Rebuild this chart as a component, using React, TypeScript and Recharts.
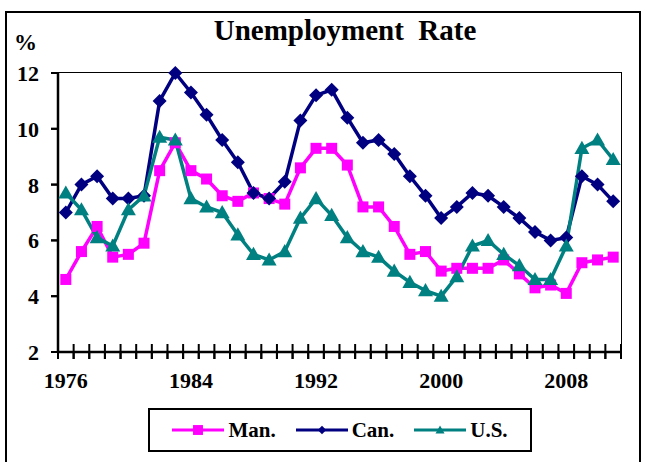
import React from 'react';
import { LineChart, Line, XAxis, YAxis } from 'recharts';

const years = [
  1976, 1977, 1978, 1979, 1980, 1981, 1982, 1983, 1984, 1985, 1986, 1987,
  1988, 1989, 1990, 1991, 1992, 1993, 1994, 1995, 1996, 1997, 1998, 1999,
  2000, 2001, 2002, 2003, 2004, 2005, 2006, 2007, 2008, 2009, 2010, 2011,
];
const manitoba = [
  4.6, 5.6, 6.5, 5.4, 5.5, 5.9, 8.5, 9.5, 8.5, 8.2, 7.6, 7.4,
  7.7, 7.5, 7.3, 8.6, 9.3, 9.3, 8.7, 7.2, 7.2, 6.5, 5.5, 5.6,
  4.9, 5.0, 5.0, 5.0, 5.3, 4.8, 4.3, 4.4, 4.1, 5.2, 5.3, 5.4,
];
const canada = [
  7.0, 8.0, 8.3, 7.5, 7.5, 7.6, 11.0, 12.0, 11.3, 10.5, 9.6, 8.8,
  7.7, 7.5, 8.1, 10.3, 11.2, 11.4, 10.4, 9.5, 9.6, 9.1, 8.3, 7.6,
  6.8, 7.2, 7.7, 7.6, 7.2, 6.8, 6.3, 6.0, 6.1, 8.3, 8.0, 7.4,
];
const usa = [
  7.7, 7.1, 6.1, 5.8, 7.1, 7.6, 9.7, 9.6, 7.5, 7.2, 7.0, 6.2,
  5.5, 5.3, 5.6, 6.8, 7.5, 6.9, 6.1, 5.6, 5.4, 4.9, 4.5, 4.2,
  4.0, 4.7, 5.8, 6.0, 5.5, 5.1, 4.6, 4.6, 5.8, 9.3, 9.6, 8.9,
];
const yearLabels = [1976, 1984, 1992, 2000, 2008];
const yTicks = [2, 4, 6, 8, 10, 12];

const series = [
  { key: 'man', name: 'Man.', color: '#FF00FF', shape: 'square' },
  { key: 'can', name: 'Can.', color: '#000080', shape: 'diamond' },
  { key: 'us', name: 'U.S.', color: '#008080', shape: 'triangle' },
];

const data = years.map((year, i) => ({
  year,
  man: manitoba[i],
  can: canada[i],
  us: usa[i],
}));

// tick marks sit on the category boundaries, like the old Excel chart
const boundaryTicks = [...years.map((y) => y - 0.5), years[years.length - 1] + 0.5];

const FONT = '"Liberation Serif", "DejaVu Serif", serif';
const HALF_CAT = 563 / years.length / 2;

const Marker = ({ cx, cy, shape, color, size = 1 }: any) => {
  if (cx == null || cy == null) return null;
  if (shape === 'square') {
    const s = 5.5 * size;
    return <rect x={cx - s} y={cy - s} width={s * 2} height={s * 2} fill={color} />;
  }
  if (shape === 'diamond') {
    const s = 7 * size;
    return <polygon points={`${cx},${cy - s} ${cx + s},${cy} ${cx},${cy + s} ${cx - s},${cy}`} fill={color} />;
  }
  const s = 7.5 * size;
  return <polygon points={`${cx},${cy - s} ${cx + s},${cy + s * 0.75} ${cx - s},${cy + s * 0.75}`} fill={color} />;
};

const renderXTick = (props: any) => {
  const { x, y, payload, index } = props;
  const labelYear = payload.value + 0.5;
  return (
    <g key={`xt-${index}`}>
      <path d={`M${x},${y - 15}L${x},${y}`} stroke="#000" strokeWidth={2} />
      {yearLabels.includes(labelYear) && (
        <text x={x + HALF_CAT} y={y + 29} textAnchor="middle" fontFamily={FONT} fontWeight="bold" fontSize={22} fill="#000">
          {labelYear}
        </text>
      )}
    </g>
  );
};

const renderYTick = (props: any) => (
  <g key={`yt-${props.index}`}>
    <path d={`M${props.x},${props.y}L${props.x + 7},${props.y}`} stroke="#000" strokeWidth={2} />
    <text x={props.x - 12} y={props.y + 8} textAnchor="end" fontFamily={FONT} fontWeight="bold" fontSize={22} fill="#000">
      {props.payload.value}
    </text>
  </g>
);

export default function App() {
  return (
    <div style={{ position: 'absolute', left: 0, top: 0, width: 647, height: 462, overflow: 'hidden', background: '#fff' }}>
      <div style={{ position: 'absolute', left: 5, top: 11, width: 632, height: 480, border: '2px solid #000' }} />
      {/* plot frame (top and right edges) */}
      <div style={{ position: 'absolute', left: 57, top: 72, width: 563, height: 279, border: '1.5px solid #000' }} />
      <div style={{ position: 'absolute', left: 0, top: 14, width: 690, textAlign: 'center', fontFamily: FONT, fontWeight: 'bold', fontSize: 29 }}>
        Unemployment&nbsp; Rate
      </div>
      <div style={{ position: 'absolute', left: 14, top: 30, fontFamily: FONT, fontWeight: 'bold', fontSize: 23 }}>%</div>
      <div style={{ position: 'absolute', left: 0, top: 0 }}>
        <LineChart width={647} height={462} data={data} margin={{ top: 73, right: 26, bottom: 80, left: 18 }}>
          <XAxis
            dataKey="year"
            type="number"
            domain={[1975.5, 2011.5]}
            ticks={boundaryTicks}
            interval={0}
            height={30}
            tickSize={7}
            tickMargin={0}
            tickLine={{ stroke: '#000', strokeWidth: 2 }}
            axisLine={{ stroke: '#000', strokeWidth: 2.5 }}
            tick={renderXTick}
          />
          <YAxis
            type="number"
            domain={[2, 12]}
            ticks={yTicks}
            interval={0}
            width={40}
            tickSize={7}
            tickMargin={0}
            tickLine={{ stroke: '#000', strokeWidth: 2 }}
            axisLine={{ stroke: '#000', strokeWidth: 2.5 }}
            tick={renderYTick}
          />
          {series.map((s) => (
            <Line
              key={s.key}
              dataKey={s.key}
              name={s.name}
              stroke={s.color}
              strokeWidth={3.5}
              isAnimationActive={false}
              dot={(p: any) => <Marker key={`${s.key}-${p.index}`} cx={p.cx} cy={p.cy} shape={s.shape} color={s.color} />}
              activeDot={false}
            />
          ))}
        </LineChart>
      </div>
      <div
        style={{
          position: 'absolute', left: 148, top: 408, width: 380, height: 40, border: '2px solid #000',
          display: 'flex', alignItems: 'center', justifyContent: 'center', gap: 20,
          fontFamily: FONT, fontWeight: 'bold', fontSize: 21,
        }}
      >
        {series.map((s) => (
          <div key={s.key} style={{ display: 'flex', alignItems: 'center', gap: 4 }}>
            <svg width={52} height={20}>
              <line x1={0} x2={52} y1={10} y2={10} stroke={s.color} strokeWidth={3} />
              <Marker cx={26} cy={10} shape={s.shape} color={s.color} size={s.shape === 'square' ? 0.9 : 0.6} />
            </svg>
            <span>{s.name}</span>
          </div>
        ))}
      </div>
    </div>
  );
}
